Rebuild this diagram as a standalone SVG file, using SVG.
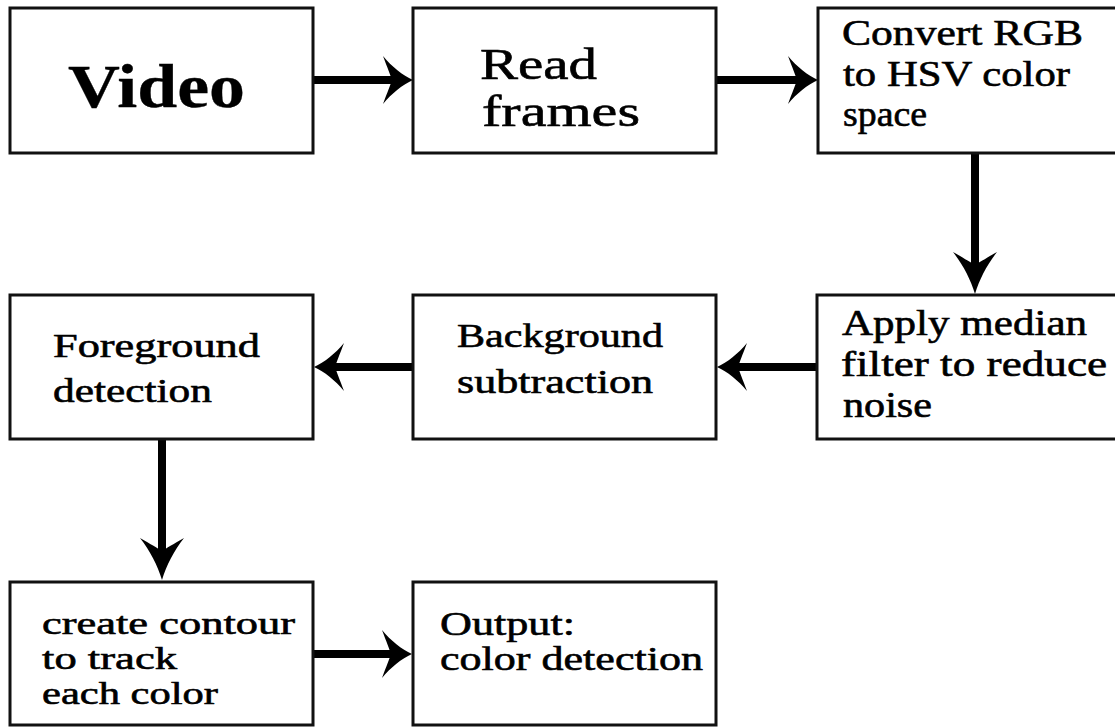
<svg xmlns="http://www.w3.org/2000/svg" xmlns:xlink="http://www.w3.org/1999/xlink" width="1115" height="727" viewBox="0 0 1115 727">
<style>
.box{fill:#fff;stroke:#111;stroke-width:3}
.t{font-family:"Liberation Serif","Times New Roman",serif;fill:#000;stroke:#000;stroke-width:0.6}
.big{font-size:62px;font-weight:bold;stroke-width:0.3}
.m{font-size:45px}
.s{font-size:36px}
.xs{font-size:34px}
.xxs{font-size:31px}
.shaft{stroke:#000;stroke-width:8;fill:none}
.head{fill:#000}
</style>
<defs>
<path id="hd" d="M0,0 C-0.35,-0.2 -0.7,-0.55 -1,-1 C-0.85,-0.5 -0.75,-0.2 -0.7,0 C-0.75,0.2 -0.85,0.5 -1,1 C-0.7,0.55 -0.35,0.2 0,0 Z"/>
</defs>
<rect width="1115" height="727" fill="#fff"/>
<g id="connectors">
<line class="shaft" x1="313" y1="80" x2="393" y2="80"/>
<use class="head" xlink:href="#hd" href="#hd" transform="translate(413,80) scale(30,24)"/>
<line class="shaft" x1="716" y1="80" x2="798" y2="80"/>
<use class="head" xlink:href="#hd" href="#hd" transform="translate(818,80) scale(30,24)"/>
<line class="shaft" x1="975" y1="153" x2="975" y2="265"/>
<use class="head" xlink:href="#hd" href="#hd" transform="translate(975,294) rotate(90) scale(42,22)"/>
<line class="shaft" x1="817" y1="367" x2="736" y2="367"/>
<use class="head" xlink:href="#hd" href="#hd" transform="translate(717,367) scale(-30,24)"/>
<line class="shaft" x1="413" y1="367" x2="334" y2="367"/>
<use class="head" xlink:href="#hd" href="#hd" transform="translate(314,367) scale(-30,24)"/>
<line class="shaft" x1="162" y1="439" x2="162" y2="552"/>
<use class="head" xlink:href="#hd" href="#hd" transform="translate(162,580) rotate(90) scale(42,22)"/>
<line class="shaft" x1="313" y1="654" x2="392" y2="654"/>
<use class="head" xlink:href="#hd" href="#hd" transform="translate(412,654) scale(30,24)"/>
</g>
<g id="video">
<rect class="box" x="10" y="8" width="303" height="145"/>
<text class="t big" x="68" y="107" textLength="177" lengthAdjust="spacingAndGlyphs">Video</text>
</g>
<g id="read-frames">
<rect class="box" x="413" y="8" width="303" height="145"/>
<text class="t m" x="480" y="79" textLength="117" lengthAdjust="spacingAndGlyphs">Read</text>
<text class="t m" x="482" y="126" textLength="158" lengthAdjust="spacingAndGlyphs">frames</text>
</g>
<g id="convert">
<rect class="box" x="818" y="8" width="300" height="145"/>
<text class="t s" x="842" y="45" textLength="241" lengthAdjust="spacingAndGlyphs">Convert RGB</text>
<text class="t s" x="843" y="86" textLength="227" lengthAdjust="spacingAndGlyphs">to HSV color</text>
<text class="t s" x="843" y="126" textLength="84" lengthAdjust="spacingAndGlyphs">space</text>
</g>
<g id="median">
<rect class="box" x="817" y="295" width="301" height="144"/>
<text class="t s" x="842" y="335" textLength="245" lengthAdjust="spacingAndGlyphs">Apply median</text>
<text class="t s" x="841" y="376" textLength="266" lengthAdjust="spacingAndGlyphs">filter to reduce</text>
<text class="t s" x="843" y="417" textLength="89" lengthAdjust="spacingAndGlyphs">noise</text>
</g>
<g id="background">
<rect class="box" x="413" y="295" width="303" height="144"/>
<text class="t xs" x="457" y="347" textLength="206" lengthAdjust="spacingAndGlyphs">Background</text>
<text class="t xs" x="457" y="393" textLength="196" lengthAdjust="spacingAndGlyphs">subtraction</text>
</g>
<g id="foreground">
<rect class="box" x="10" y="295" width="303" height="144"/>
<text class="t xs" x="53" y="357" textLength="207" lengthAdjust="spacingAndGlyphs">Foreground</text>
<text class="t xs" x="53" y="402" textLength="159" lengthAdjust="spacingAndGlyphs">detection</text>
</g>
<g id="contour">
<rect class="box" x="10" y="582" width="303" height="143"/>
<text class="t xxs" x="42" y="634" textLength="253" lengthAdjust="spacingAndGlyphs">create contour</text>
<text class="t xxs" x="42" y="669" textLength="135" lengthAdjust="spacingAndGlyphs">to track</text>
<text class="t xxs" x="42" y="704" textLength="176" lengthAdjust="spacingAndGlyphs">each color</text>
</g>
<g id="output">
<rect class="box" x="413" y="582" width="303" height="143"/>
<text class="t xs" x="440" y="635" textLength="135" lengthAdjust="spacingAndGlyphs">Output:</text>
<text class="t xs" x="440" y="670" textLength="263" lengthAdjust="spacingAndGlyphs">color detection</text>
</g>
</svg>
